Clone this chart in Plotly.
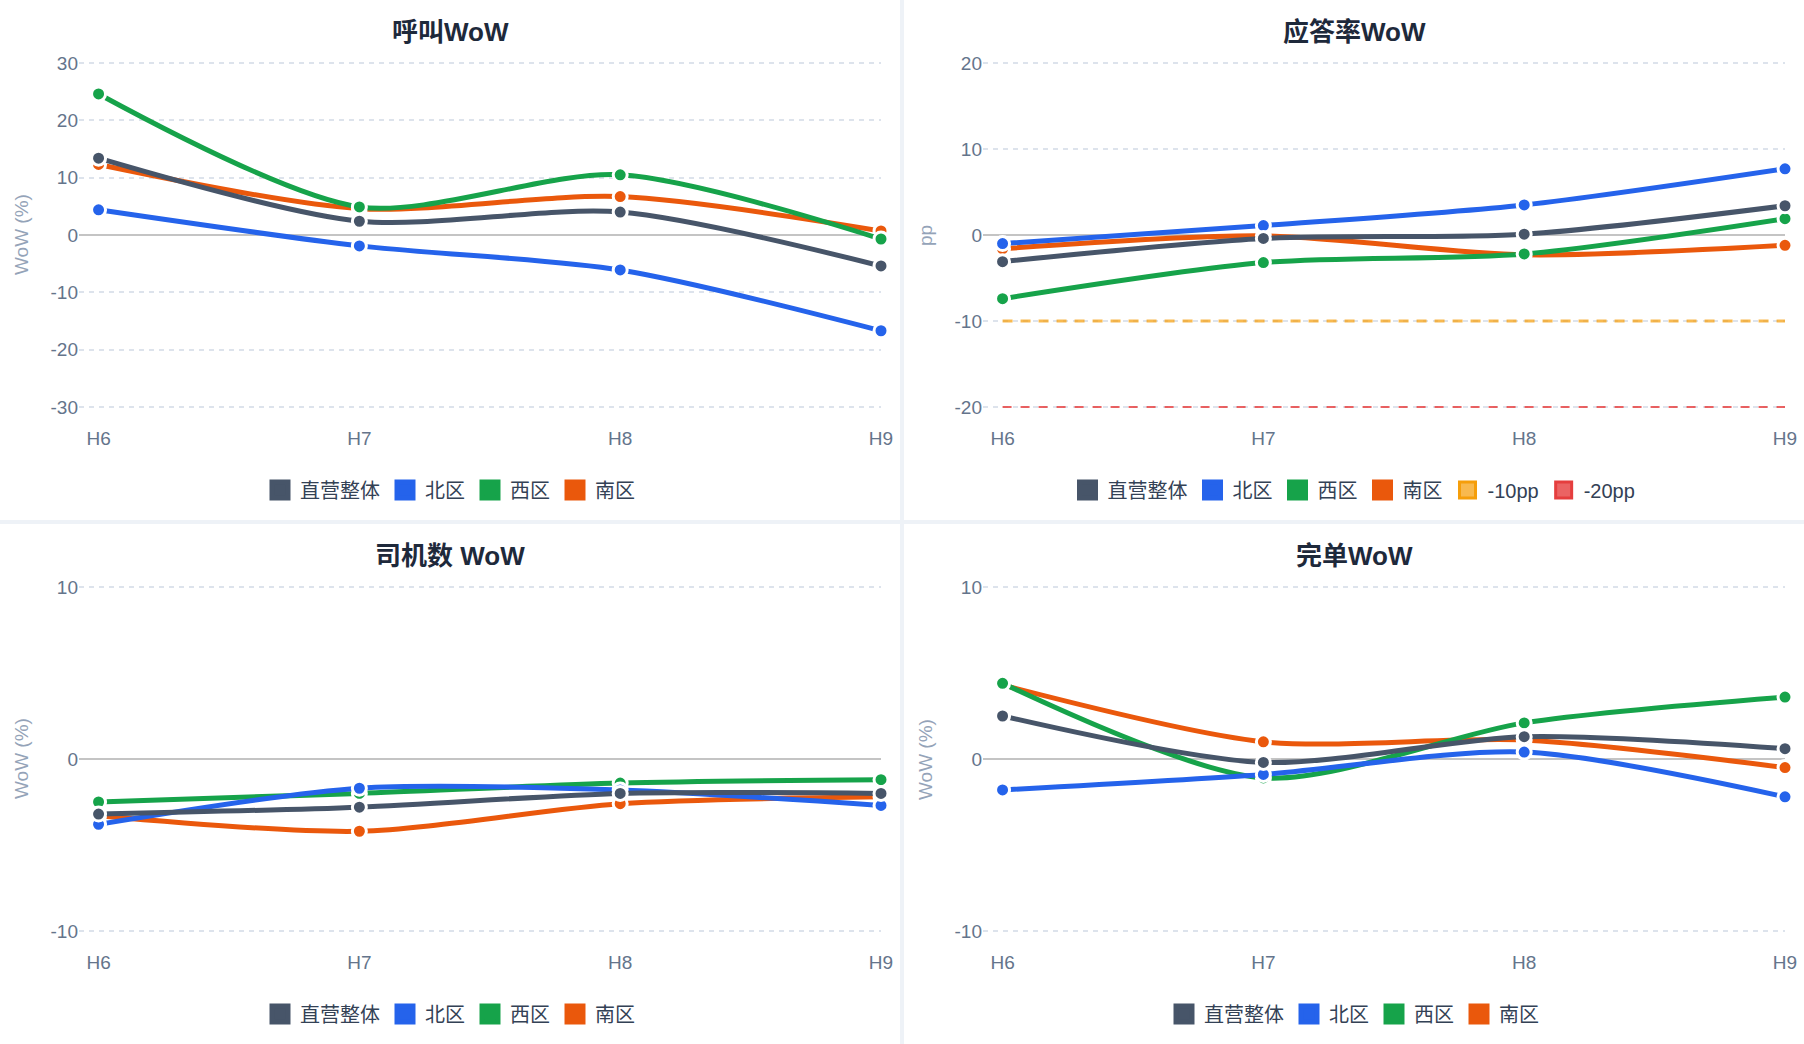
import plotly.graph_objects as go
from plotly.subplots import make_subplots

# ---- data -------------------------------------------------------------
hours = ["H6", "H7", "H8", "H9"]
series_names = ["直营整体", "北区", "西区", "南区"]
series_colors = ["#475569", "#2563eb", "#16a34a", "#ea580c"]

# 呼叫WoW (%)
call_total = [13.4, 2.4, 4.0, -5.4]
call_north = [4.4, -1.9, -6.1, -16.7]
call_west = [24.6, 4.9, 10.5, -0.7]
call_south = [12.3, 4.6, 6.7, 0.7]

# 应答率WoW (pp)
answer_total = [-3.1, -0.4, 0.1, 3.4]
answer_north = [-1.0, 1.1, 3.5, 7.7]
answer_west = [-7.4, -3.2, -2.2, 1.9]
answer_south = [-1.6, -0.1, -2.3, -1.2]
answer_minus10 = [-10, -10, -10, -10]
answer_minus20 = [-20, -20, -20, -20]

# 司机数 WoW (%)
driver_total = [-3.2, -2.8, -2.0, -2.0]
driver_north = [-3.8, -1.7, -1.8, -2.7]
driver_west = [-2.5, -2.0, -1.4, -1.2]
driver_south = [-3.3, -4.2, -2.6, -2.2]

# 完单WoW (%)
finish_total = [2.5, -0.2, 1.3, 0.6]
finish_north = [-1.8, -0.9, 0.4, -2.2]
finish_west = [4.4, -1.1, 2.1, 3.6]
finish_south = [4.3, 1.0, 1.1, -0.5]

call_ticks = [-30, -20, -10, 0, 10, 20, 30]
answer_ticks = [-20, -10, 0, 10, 20]
driver_ticks = [-10, 0, 10]
finish_ticks = [-10, 0, 10]

panel_titles = ["呼叫WoW", "应答率WoW", "司机数 WoW", "完单WoW"]
panel_ytitles = ["WoW (%)", "pp", "WoW (%)", "WoW (%)"]

threshold_names = ["-10pp", "-20pp"]
threshold_colors = ["rgba(245,158,11,0.72)", "rgba(232,72,72,0.85)"]
threshold_borders = ["#f59e0b", "#e53e3e"]

# ---- layout helpers ---------------------------------------------------
W, H = 1804, 1044
PANEL_W, PANEL_H, GAP = 900, 520, 4
PLOT_TOP, PLOT_BOTTOM = 63, 407   # tick extremes inside a panel
PAD = 2                           # keeps the edge gridlines visible
FONT = "Liberation Sans, Arial, Noto Sans CJK SC, sans-serif"
TICK_COLOR = "#64748b"


def px_x(v):
    return v / W


def px_y(v):
    return 1 - v / H


panels = [
    dict(row=1, col=1, lines=[call_total, call_north, call_west, call_south],
         ticks=call_ticks),
    dict(row=1, col=2, lines=[answer_total, answer_north, answer_west, answer_south],
         ticks=answer_ticks),
    dict(row=2, col=1, lines=[driver_total, driver_north, driver_west, driver_south],
         ticks=driver_ticks),
    dict(row=2, col=2, lines=[finish_total, finish_north, finish_west, finish_south],
         ticks=finish_ticks),
]

fig = make_subplots(rows=2, cols=2)

for i, p in enumerate(panels):
    r, c = p["row"], p["col"]
    x0 = (c - 1) * (PANEL_W + GAP)
    y0 = (r - 1) * (PANEL_H + GAP)
    legend_id = "legend" if i == 0 else f"legend{i + 1}"

    # threshold lines in the answer-rate panel
    if i == 1:
        for vals, name, col, width, dash in zip(
            [answer_minus10, answer_minus20], threshold_names, threshold_colors,
            [3, 2], ["10px,8px", "9px,9px"],
        ):
            fig.add_trace(
                go.Scatter(x=hours, y=vals, mode="lines", name=name,
                           line=dict(color=col, width=width, dash=dash),
                           showlegend=False, hoverinfo="skip"),
                row=r, col=c,
            )

    # draw in reverse so 直营整体 markers sit on top
    for vals, name, color in reversed(list(zip(p["lines"], series_names, series_colors))):
        fig.add_trace(
            go.Scatter(
                x=hours, y=vals, mode="lines+markers", name=name,
                line=dict(color=color, width=5, shape="spline", smoothing=0.8),
                marker=dict(size=14, color=color, line=dict(color="white", width=3)),
                cliponaxis=False, showlegend=False,
            ),
            row=r, col=c,
        )

    # legend entries (square swatches)
    for name, color in zip(series_names, series_colors):
        fig.add_trace(
            go.Scatter(x=[None], y=[None], mode="markers", name=name,
                       marker=dict(symbol="square", size=16, color=color,
                                   line=dict(color=color, width=5)),
                       legend=legend_id, hoverinfo="skip"),
            row=r, col=c,
        )
    if i == 1:
        for name, col, border in zip(threshold_names, threshold_colors, threshold_borders):
            fig.add_trace(
                go.Scatter(x=[None], y=[None], mode="markers", name=name,
                           marker=dict(symbol="square", size=16, color=col,
                                       line=dict(color=border, width=3)),
                           legend=legend_id, hoverinfo="skip"),
                row=r, col=c,
            )

    ticks = p["ticks"]
    ext = (ticks[-1] - ticks[0]) * PAD / (PLOT_BOTTOM - PLOT_TOP)

    fig.update_xaxes(
        domain=[px_x(x0 + 79), px_x(x0 + 881)],
        type="category", categoryorder="array", categoryarray=hours,
        range=[-0.075, 3], showgrid=False, zeroline=False, showline=False,
        ticks="", ticklabelstandoff=18 - PAD,
        tickfont=dict(size=19, color=TICK_COLOR, family=FONT),
        row=r, col=c,
    )
    fig.update_yaxes(
        domain=[px_y(y0 + PLOT_BOTTOM + PAD), px_y(y0 + PLOT_TOP - PAD)],
        range=[ticks[0] - ext, ticks[-1] + ext],
        tickvals=ticks, ticktext=[str(t) for t in ticks],
        showgrid=True, gridcolor="#dde3ec", griddash="5px,5px", gridwidth=1.5,
        zeroline=True, zerolinecolor="#c4c4c4", zerolinewidth=2,
        showline=False, ticks="",
        tickfont=dict(size=19, color=TICK_COLOR, family=FONT),
        row=r, col=c,
    )

    fig.add_annotation(
        text=f"<b>{panel_titles[i]}</b>", xref="paper", yref="paper",
        x=px_x(x0 + 450), y=px_y(y0 + 32), xanchor="center", yanchor="middle",
        showarrow=False, font=dict(size=26, color="#1e293b", family=FONT),
    )
    fig.add_annotation(
        text=panel_ytitles[i], xref="paper", yref="paper", textangle=-90,
        x=px_x(x0 + 21), y=px_y(y0 + 235), xanchor="center", yanchor="middle",
        showarrow=False, font=dict(size=19, color="#94a3b8", family=FONT),
    )
    fig.update_layout({
        legend_id: dict(
            orientation="h", x=px_x(x0 + 450), xanchor="center",
            y=px_y(y0 + 490), yanchor="middle", bgcolor="rgba(0,0,0,0)",
            font=dict(size=20, color="#334155", family=FONT),
        )
    })

# panel separators
fig.add_shape(type="rect", xref="paper", yref="paper", layer="below",
              x0=px_x(PANEL_W), x1=px_x(PANEL_W + GAP), y0=0, y1=1,
              fillcolor="#eef2f7", line_width=0)
fig.add_shape(type="rect", xref="paper", yref="paper", layer="below",
              x0=0, x1=1, y0=px_y(PANEL_H + GAP), y1=px_y(PANEL_H),
              fillcolor="#eef2f7", line_width=0)

fig.update_layout(
    width=W, height=H,
    margin=dict(l=0, r=0, t=0, b=0, autoexpand=False),
    paper_bgcolor="white", plot_bgcolor="white",
    font=dict(family=FONT, color=TICK_COLOR),
    hovermode="closest",
)

fig.write_html(
    "out.html",
    config={"displayModeBar": False},
    post_script="document.body.style.margin='0px';",
)
